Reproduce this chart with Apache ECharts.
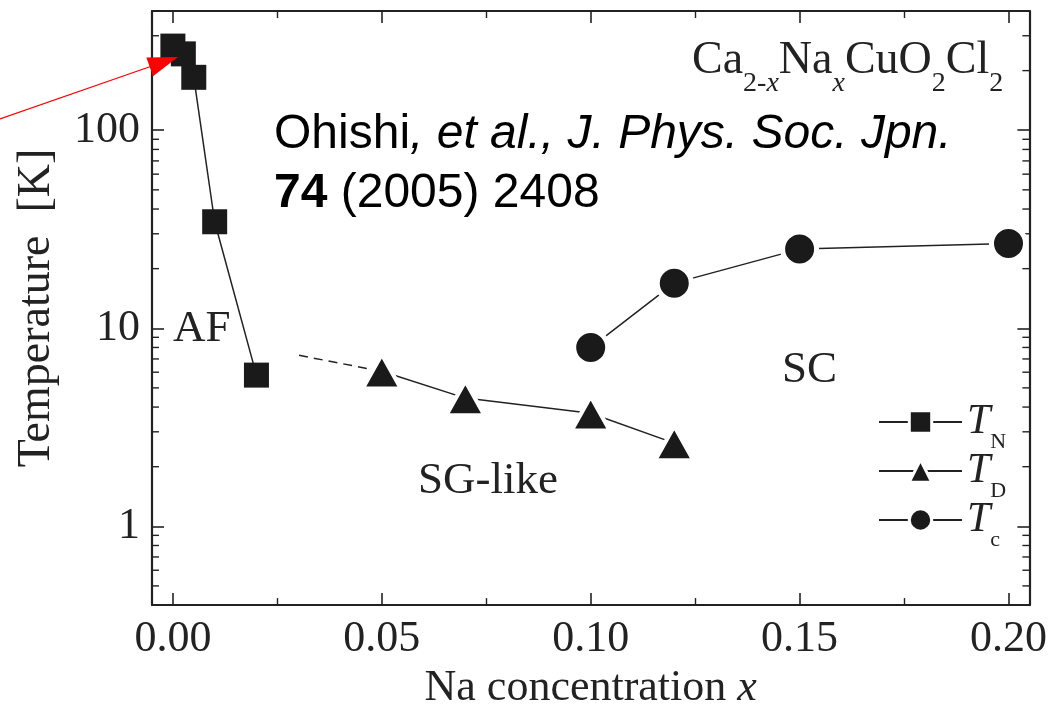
<!DOCTYPE html>
<html><head><meta charset="utf-8">
<script src="https://cdn.jsdelivr.net/npm/echarts@6/dist/echarts.min.js"></script>
<style>html,body{margin:0;padding:0;background:#fff}#c{width:1050px;height:715px}</style>
</head><body><div id="c"></div>
<script>
// ---- data ----
const tnX = [0.0, 0.0025, 0.005, 0.01, 0.02];
const tnY = [266, 243, 185, 34.5, 5.8];
const tdX = [0.05, 0.07, 0.10, 0.12];
const tdY = [6.06, 4.44, 3.72, 2.63];
const tcX = [0.10, 0.12, 0.15, 0.20];
const tcY = [7.99, 16.9, 25.1, 26.8];
const dashX = [0.0302, 0.05];
const dashY = [7.3, 6.06];
const xTickLabels = ['0.00', '0.05', '0.10', '0.15', '0.20'];
const yTickLabels = ['1', '10', '100'];
const yMinorTicks = [0.5,0.6,0.7,0.8,0.9,2,3,4,5,6,7,8,9,20,30,40,50,60,70,80,90,200,300];
const seriesNames = ['TN', 'TD', 'Tc'];

const X_MIN = -0.005, X_MAX = 0.205, Y_MIN = 0.4, Y_MAX = 400;
const SERIF = '"Liberation Serif", "DejaVu Serif", serif';
const SANS = '"Liberation Sans", Arial, sans-serif';

const zip = (a, b) => a.map((v, i) => [v, b[i]]);

function xLabel(v) {
  for (const s of xTickLabels) if (Math.abs(parseFloat(s) - v) < 1e-6) return s;
  return '';
}
function yLabel(v) {
  for (const s of yTickLabels) if (Math.abs(parseFloat(s) - v) / parseFloat(s) < 1e-6) return s;
  return '';
}

const axisLineStyle = { color: '#222', width: 2.2 };
const chart = echarts.init(document.getElementById('c'));

const option = {
  animation: false,
  backgroundColor: '#fff',
  grid: { left: 152, right: 19, top: 11, bottom: 103, containLabel: false },
  xAxis: [
    {
      type: 'value', min: X_MIN, max: X_MAX, splitNumber: 5,
      axisLine: { show: true, onZero: false, lineStyle: axisLineStyle },
      axisTick: { show: true, inside: true, length: 12, lineStyle: { color: '#222', width: 1.6 } },
      minorTick: { show: true, splitNumber: 2, length: 7, lineStyle: { color: '#222', width: 1.4 } },
      splitLine: { show: false },
      axisLabel: { formatter: xLabel, fontFamily: SERIF, fontSize: 44, color: '#222', margin: 12, showMinLabel: true, showMaxLabel: true, hideOverlap: false },
      name: '{n|Na concentration }{i|x}', nameLocation: 'middle', nameGap: 52,
      nameTextStyle: { rich: {
        n: { fontFamily: SERIF, fontSize: 44, color: '#222' },
        i: { fontFamily: SERIF, fontSize: 44, fontStyle: 'italic', color: '#222' } } }
    },
    {
      type: 'value', min: X_MIN, max: X_MAX, splitNumber: 5, position: 'top',
      axisLine: { show: true, onZero: false, lineStyle: axisLineStyle },
      axisTick: { show: true, inside: true, length: 12, lineStyle: { color: '#222', width: 1.6 } },
      minorTick: { show: true, splitNumber: 2, length: 7, lineStyle: { color: '#222', width: 1.4 } },
      splitLine: { show: false }, axisLabel: { show: false }
    }
  ],
  yAxis: [
    {
      type: 'log', logBase: 10, min: Y_MIN, max: Y_MAX,
      axisLine: { show: true, onZero: false, lineStyle: axisLineStyle },
      axisTick: { show: true, inside: true, length: 12, lineStyle: { color: '#222', width: 1.6 } },
      splitLine: { show: false },
      axisLabel: { formatter: yLabel, fontFamily: SERIF, fontSize: 44, color: '#222', margin: 12, showMinLabel: true, showMaxLabel: true },
      name: 'Temperature  [K]', nameLocation: 'middle', nameGap: 92,
      nameTextStyle: { fontFamily: SERIF, fontSize: 46, color: '#222' }
    },
    {
      type: 'log', logBase: 10, min: Y_MIN, max: Y_MAX, position: 'right',
      axisLine: { show: true, onZero: false, lineStyle: axisLineStyle },
      axisTick: { show: true, inside: true, length: 12, lineStyle: { color: '#222', width: 1.6 } },
      splitLine: { show: false }, axisLabel: { show: false }
    }
  ],
  legend: {
    orient: 'vertical', left: 873, top: 396, itemWidth: 83, itemHeight: 28, itemGap: -3,
    data: seriesNames,
    itemStyle: { borderColor: '#fff', borderWidth: 3 },
    formatter: name => '{t|T}{s|' + name.slice(1) + '}',
    textStyle: { color: '#222', rich: {
      t: { fontFamily: SERIF, fontSize: 42, fontStyle: 'italic', color: '#222', lineHeight: 42, verticalAlign: 'top' },
      s: { fontFamily: SERIF, fontSize: 22, color: '#222', lineHeight: 22, padding: [30, 0, 0, 0], verticalAlign: 'top' } } }
  },
  series: [
    {
      name: 'TN', type: 'line', data: zip(tnX, tnY), symbol: 'rect', symbolSize: 25,
      lineStyle: { color: '#222', width: 1.5 }, itemStyle: { color: '#1a1a1a' }, z: 3
    },
    {
      name: 'TD', type: 'line', data: zip(tdX, tdY), symbol: 'triangle', symbolSize: [38, 34],
      lineStyle: { color: '#222', width: 1.5 }, itemStyle: { color: '#1a1a1a', borderColor: '#fff', borderWidth: 4 }, z: 3
    },
    {
      name: 'Tc', type: 'line', data: zip(tcX, tcY), symbol: 'circle', symbolSize: 34,
      lineStyle: { color: '#222', width: 1.5 }, itemStyle: { color: '#1a1a1a', borderColor: '#fff', borderWidth: 5 }, z: 3
    },
    {
      name: 'dash', type: 'line', data: zip(dashX, dashY), symbol: 'none',
      lineStyle: { color: '#222', width: 1.5, type: [9, 6] }, z: 2
    },
    {
      name: 'yMinor', type: 'custom', silent: true, z: 1,
      data: yMinorTicks.map(v => [X_MIN, v]),
      renderItem: function (params, api) {
        const cs = params.coordSys;
        const y = api.coord([X_MIN, api.value(1)])[1];
        return { type: 'group', children: [
          { type: 'line', shape: { x1: cs.x, y1: y, x2: cs.x + 7, y2: y }, style: { stroke: '#222', lineWidth: 1.4 } },
          { type: 'line', shape: { x1: cs.x + cs.width, y1: y, x2: cs.x + cs.width - 7, y2: y }, style: { stroke: '#222', lineWidth: 1.4 } }
        ] };
      }
    }
  ],
  graphic: [
    // title formula
    { type: 'text', left: 692, top: 38, style: {
      text: '{m|Ca}{s|2-}{si|x}{m|Na}{si|x}{m|CuO}{s|2}{m|Cl}{s|2}',
      rich: {
        m: { fontFamily: SERIF, fontSize: 46, fill: '#222', lineHeight: 46, verticalAlign: 'top' },
        s: { fontFamily: SERIF, fontSize: 28, fill: '#222', lineHeight: 28, padding: [32, 0, 0, 0], verticalAlign: 'top' },
        si: { fontFamily: SERIF, fontSize: 28, fontStyle: 'italic', fill: '#222', lineHeight: 28, padding: [32, 0, 0, 0], verticalAlign: 'top' }
      } } },
    // citation
    { type: 'text', left: 274, top: 111, style: {
      text: '{r|Ohishi}{i|, et al., J. Phys. Soc. Jpn.}\n{b|74}{r| (2005) 2408}',
      rich: {
        r: { fontFamily: SANS, fontSize: 48, fill: '#000', lineHeight: 59 },
        i: { fontFamily: SANS, fontSize: 48, fontStyle: 'italic', fill: '#000', lineHeight: 59 },
        b: { fontFamily: SANS, fontSize: 48, fontWeight: 'bold', fill: '#000', lineHeight: 59 }
      } } },
    // region labels
    { type: 'text', left: 173, top: 307, style: { text: 'AF', fontFamily: SERIF, fontSize: 45, fill: '#222' } },
    { type: 'text', left: 782, top: 348, style: { text: 'SC', fontFamily: SERIF, fontSize: 45, fill: '#222' } },
    { type: 'text', left: 418, top: 459, style: { text: 'SG-like', fontFamily: SERIF, fontSize: 45, fill: '#222' } },
    // red arrow
    { type: 'line', shape: { x1: 0, y1: 119, x2: 152, y2: 66 }, style: { stroke: '#ff0000', lineWidth: 1.3 }, z: 100 },
    { type: 'polygon', shape: { points: [[178, 57], [146.4, 57.5], [153, 76.3]] }, style: { fill: '#ff0000' }, z: 100 }
  ]
};
chart.setOption(option);
</script>
</body></html>
